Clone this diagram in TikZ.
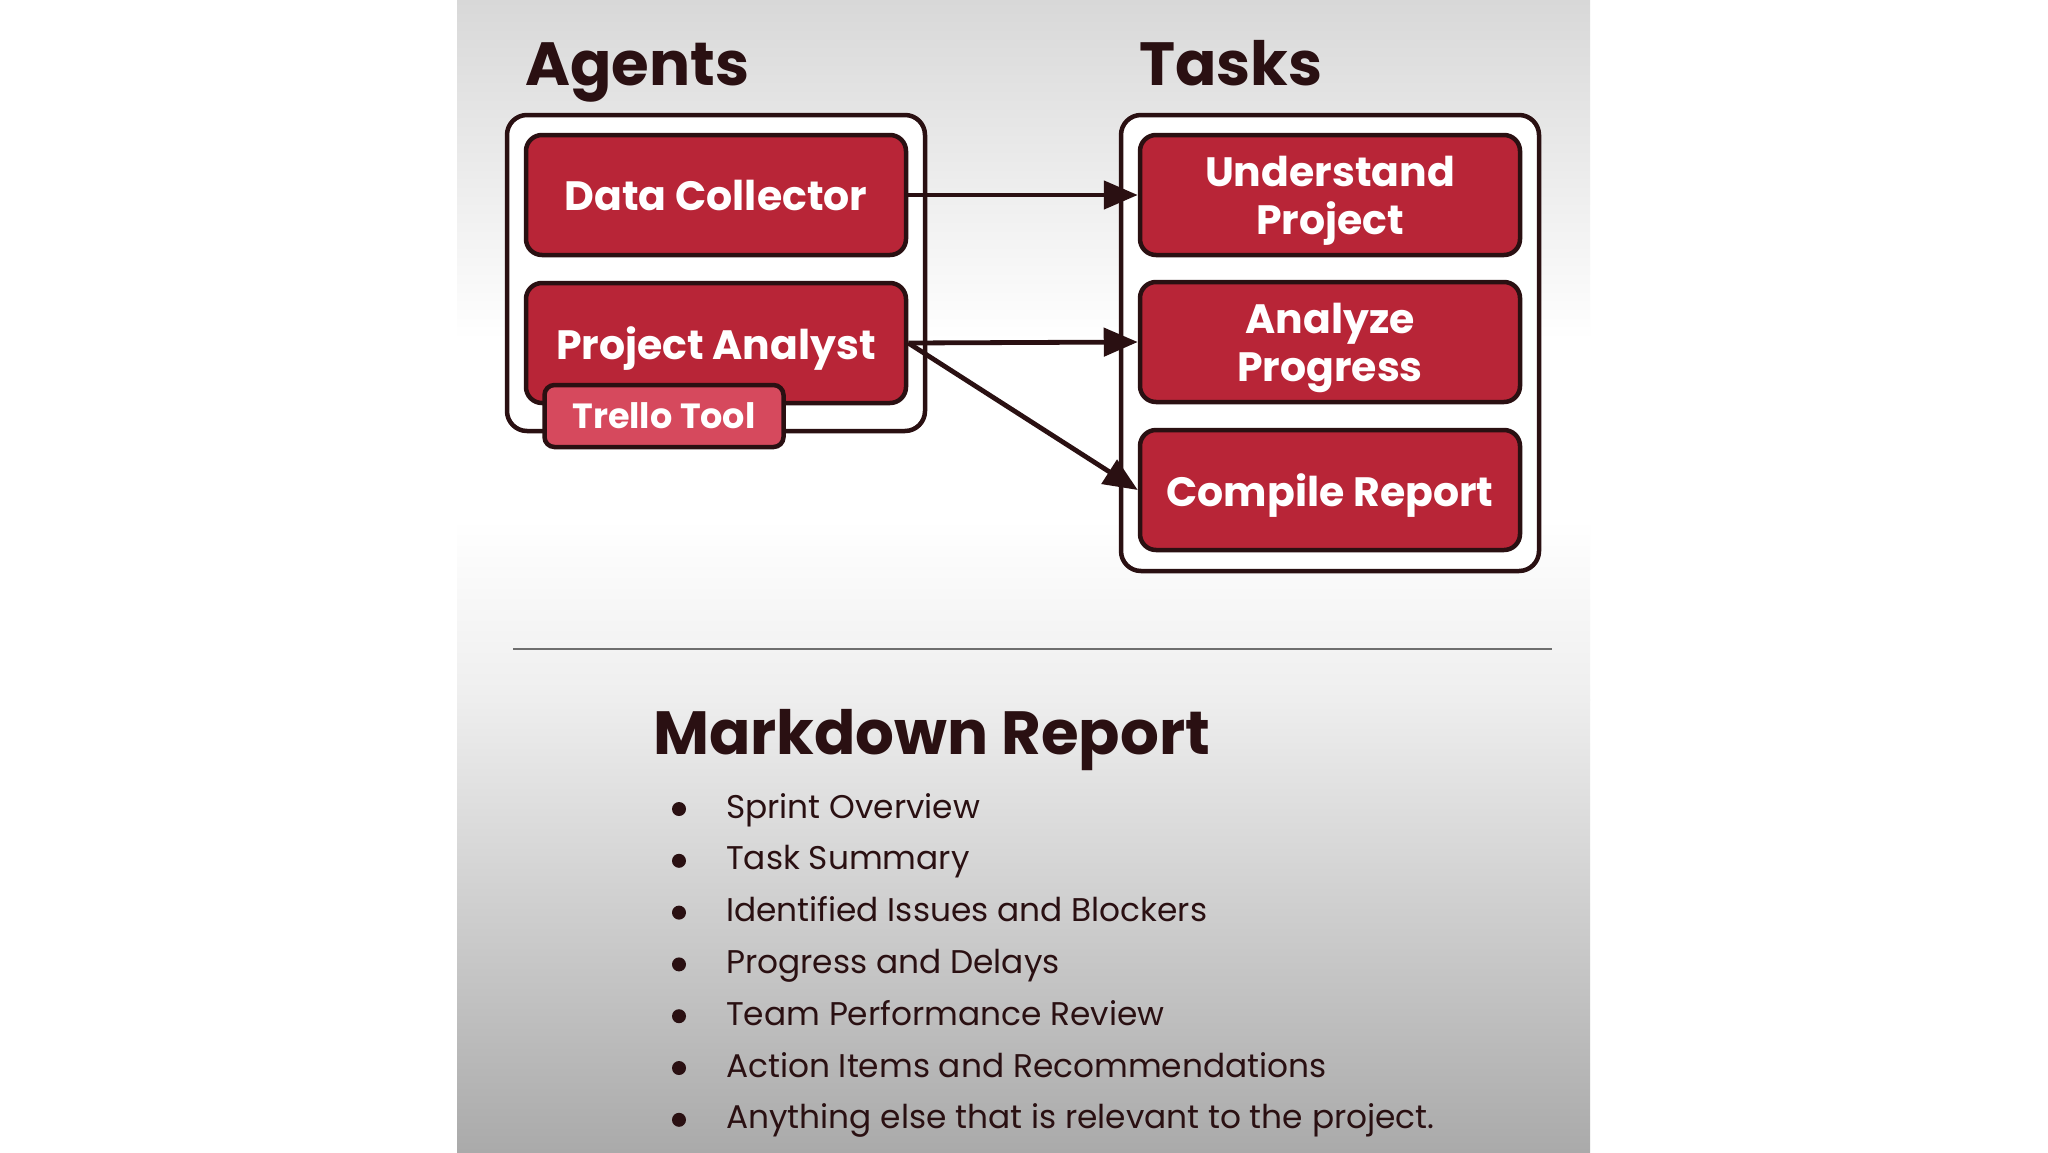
\documentclass[tikz,border=0pt]{standalone}
\usepackage{fontspec}
\setmainfont{Poppins}
\usetikzlibrary{arrows.meta}
\definecolor{boxred}{HTML}{B82537}
\definecolor{dark}{HTML}{2A1012}
\definecolor{trello}{HTML}{D6495D}
\definecolor{sepgray}{HTML}{6E6E6E}
\begin{document}
\begin{tikzpicture}[x=1pt,y=-1pt,
 redbox/.style={draw=dark,line width=4.5pt,fill=boxred,rounded corners=16pt,minimum width=380pt,minimum height=120pt,text=white,font=\bfseries\fontsize{41}{48}\selectfont,align=center,inner sep=0pt,text depth=0pt},
 toolbox/.style={draw=dark,line width=4.5pt,fill=trello,rounded corners=10pt,minimum width=239pt,minimum height=62pt,text=white,font=\bfseries\fontsize{35}{40}\selectfont,inner sep=0pt,text depth=0pt},
 group/.style={draw=dark,line width=4.5pt,fill=white,rounded corners=20pt,inner sep=0pt},
 heading/.style={font=\bfseries\fontsize{61}{70}\selectfont,text=dark,anchor=base west,inner sep=0pt},
 item/.style={font=\fontsize{32.8}{38}\selectfont,text=dark,anchor=base west,inner sep=0pt},
 dot/.style={circle,fill=dark,minimum size=14pt,inner sep=0pt},
 arr/.style={draw=dark,line width=4.8pt,-{Triangle[length=34pt,width=28pt]}}
]
\useasboundingbox (0,0) rectangle (2048,1152);
\fill[white] (0,0) rectangle (2048,1152);
\shade[top color={rgb,255:red,216;green,216;blue,216},bottom color=white] (457,0) rectangle (1590,340);
\fill[white] (457,339) rectangle (1590,520);
\shade[top color=white,bottom color={rgb,255:red,238;green,238;blue,238}] (457,519) rectangle (1590,700);
\shade[top color={rgb,255:red,238;green,238;blue,238},bottom color={rgb,255:red,170;green,170;blue,170}] (457,699) rectangle (1590,1152);

% headings
\node[heading] (agentsT) at (525,85) {Agents};
\node[heading] (tasksT) at (1139,85) {Tasks};

% groups
\node[group,minimum width=418pt,minimum height=316pt] (agentsbox) at (716,273) {};
\node[group,minimum width=418pt,minimum height=456pt] (tasksbox) at (1330,343) {};

% agents
\node[redbox] (dc) at (716,195) {Data Collector};
\node[redbox] (pa) at (716,343) {Project Analyst};
\node[toolbox] (tt) at (664,416) {Trello Tool};

% tasks
\node[redbox] (up) at (1330,195) {Understand\\Project};
\node[redbox] (ap) at (1330,342) {Analyze\\Progress};
\node[redbox] (cr) at (1330,490) {Compile Report};

% arrows
\draw[arr] (dc.east) -- (up.west);
\draw[arr] (pa.east) -- (ap.west);
\draw[arr] (pa.east) -- (cr.west);

% separator
\coordinate (s1) at (513,649);
\coordinate (s2) at (1552,649);
\draw[sepgray,line width=2.5pt] (s1) -- (s2);

% report
\node[heading] (mdT) at (653,754) {Markdown Report};
\foreach \i/\t in {0/Sprint Overview,1/Task Summary,2/Identified Issues and Blockers,3/Progress and Delays,4/Team Performance Review,5/Action Items and Recommendations,6/Anything else that is relevant to the project.}{
  \node[dot] (b\i) at (679,{809+51.8*\i}) {};
  \node[item] (t\i) at (726,{818+51.8*\i}) {\t};
}
\end{tikzpicture}
\end{document}
